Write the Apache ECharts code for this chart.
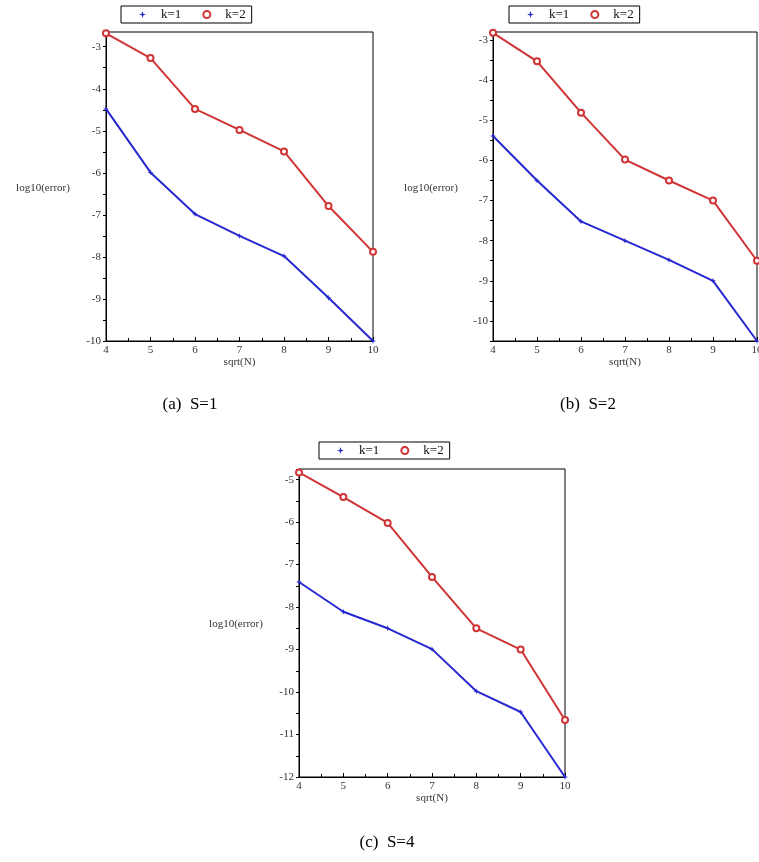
<!DOCTYPE html>
<html>
<head>
<meta charset="utf-8">
<title>log10(error) vs sqrt(N)</title>
<script src="https://cdn.jsdelivr.net/npm/echarts@6/dist/echarts.min.js"></script>
<style>
  html, body { margin: 0; padding: 0; background: #fff; }
  #chart { width: 759px; height: 862px; }
</style>
</head>
<body>
<div id="chart"></div>
<script>
// x values: sqrt(N)
const sqrtN = [4, 5, 6, 7, 8, 9, 10];

// (a) S=1
const s1K1 = [-4.48, -5.99, -6.98, -7.5, -7.98, -8.97, -10];
const s1K2 = [-2.68, -3.27, -4.48, -4.98, -5.49, -6.79, -7.88];
// (b) S=2
const s2K1 = [-5.39, -6.5, -7.52, -8, -8.48, -9, -10.5];
const s2K2 = [-2.82, -3.53, -4.81, -5.98, -6.5, -7, -8.5];
// (c) S=4
const s4K1 = [-7.41, -8.11, -8.5, -8.99, -9.98, -10.47, -12];
const s4K2 = [-4.83, -5.41, -6.02, -7.29, -8.5, -9, -10.66];

const captions = ['(a)  S=1', '(b)  S=2', '(c)  S=4'];
const seriesNames = ['k=1', 'k=2'];

const BLUE = '#2828d0';
const RED = '#d03434';
const STAR = 'path://M0,-5 L1.2,-1.2 L5,0 L1.2,1.2 L0,5 L-1.2,1.2 L-5,0 L-1.2,-1.2 Z';
const tickFont = 'Liberation Serif';

// panel layout: grid box, y range, legend spot, y-label spot, caption spot
const panels = [
  { k1: s1K1, k2: s1K2, grid: { left: 106, top: 32, width: 267, height: 309 }, yMin: -10, yMax: -2.65,
    legend: { left: 121, top: 6 }, ylab: [43, 188], cap: [190, 405] },
  { k1: s2K1, k2: s2K2, grid: { left: 493, top: 32, width: 264, height: 309 }, yMin: -10.5, yMax: -2.8,
    legend: { left: 509, top: 6 }, ylab: [431, 188], cap: [588, 405] },
  { k1: s4K1, k2: s4K2, grid: { left: 299, top: 469, width: 266, height: 308 }, yMin: -12, yMax: -4.75,
    legend: { left: 319, top: 442 }, ylab: [236, 624], cap: [387, 843] }
];

const pair = ys => sqrtN.map((x, i) => [x, ys[i]]);

const option = {
  backgroundColor: '#fff',
  animation: false,
  grid: [],
  xAxis: [],
  yAxis: [],
  legend: [],
  series: [],
  graphic: []
};

panels.forEach((p, i) => {
  option.grid.push(Object.assign({
    show: true, borderColor: '#000', borderWidth: 1, backgroundColor: 'transparent',
    outerBoundsMode: 'none', containLabel: false
  }, p.grid));

  option.xAxis.push({
    type: 'value', gridIndex: i, min: 4, max: 10, interval: 1,
    name: 'sqrt(N)', nameLocation: 'middle', nameGap: 14,
    nameTextStyle: { fontFamily: tickFont, fontSize: 11, color: '#333' },
    axisLine: { lineStyle: { color: '#000', width: 1 } },
    axisTick: { inside: true, length: 4, lineStyle: { color: '#000' } },
    minorTick: { show: true, splitNumber: 2, length: 3, lineStyle: { color: '#000' } },
    axisLabel: { fontFamily: tickFont, fontSize: 11, color: '#333', margin: 4 },
    splitLine: { show: false }
  });

  option.yAxis.push({
    type: 'value', gridIndex: i, min: p.yMin, max: p.yMax, splitNumber: 7,
    axisLine: { show: true, lineStyle: { color: '#000', width: 1 } },
    axisTick: { show: true, inside: false, length: 3, lineStyle: { color: '#000' } },
    minorTick: { show: true, splitNumber: 2, length: 3, lineStyle: { color: '#000' } },
    axisLabel: {
      fontFamily: tickFont, fontSize: 11, color: '#333', margin: 5,
      formatter: v => Number.isInteger(v) ? String(v) : ''
    },
    splitLine: { show: false }
  });

  option.legend.push({
    left: p.legend.left, top: p.legend.top,
    orient: 'horizontal',
    borderColor: '#000', borderWidth: 1, padding: [2, 6, 2, 18],
    itemGap: 21, itemWidth: 7, itemHeight: 7,
    textStyle: { fontFamily: tickFont, fontSize: 13, color: '#111', padding: [0, 0, 0, 10] },
    data: [
      { name: 'k=1', icon: STAR, itemStyle: { color: BLUE } },
      { name: 'k=2', icon: 'emptyCircle', itemStyle: { color: RED, borderColor: RED, borderWidth: 1 } }
    ]
  });

  option.series.push({
    name: seriesNames[0], type: 'line', xAxisIndex: i, yAxisIndex: i,
    data: pair(p.k1),
    symbol: STAR, symbolSize: 6,
    lineStyle: { color: BLUE, width: 2 },
    itemStyle: { color: BLUE }
  });
  option.series.push({
    name: seriesNames[1], type: 'line', xAxisIndex: i, yAxisIndex: i,
    data: pair(p.k2),
    symbol: 'emptyCircle', symbolSize: 6,
    lineStyle: { color: RED, width: 2 },
    itemStyle: { color: RED, borderColor: RED, borderWidth: 1 }
  });

  option.graphic.push({
    type: 'text', x: p.ylab[0], y: p.ylab[1],
    style: { text: 'log10(error)', font: '11px "Liberation Serif"', fill: '#333',
      textAlign: 'center', textVerticalAlign: 'middle' }
  });
  option.graphic.push({
    type: 'text', x: p.cap[0], y: p.cap[1],
    style: { text: captions[i], font: '17px "Liberation Serif"', fill: '#000',
      textAlign: 'center', textVerticalAlign: 'middle' }
  });
});

const chart = echarts.init(document.getElementById('chart'), null, { renderer: 'canvas' });
chart.setOption(option);
</script>
</body>
</html>
